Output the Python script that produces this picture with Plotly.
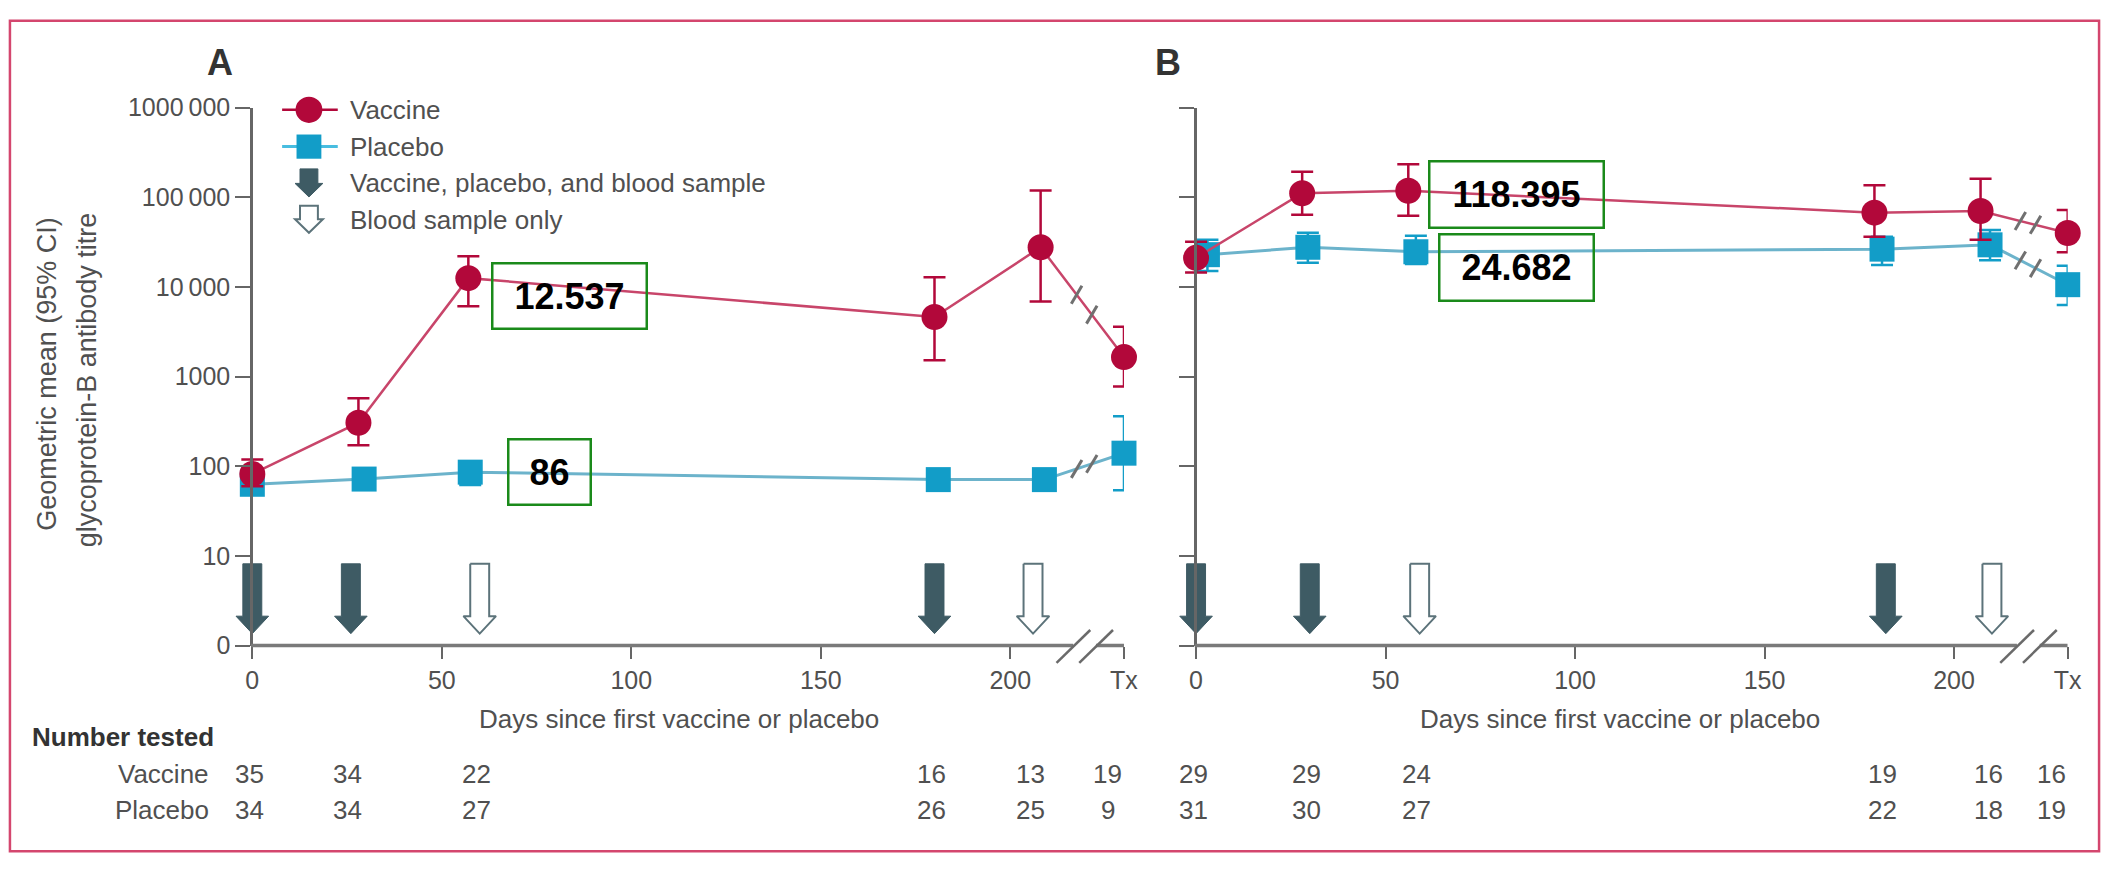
import numpy as np
import plotly.graph_objects as go

W, H = 2123, 875

# ------------------------------------------------------------------ data
TX_DAY = 230                      # plotting position of the "Tx" visit
x_tick_vals = [0, 50, 100, 150, 200, TX_DAY]
x_tick_text = ["0", "50", "100", "150", "200", "Tx"]
y_tick_vals = [1, 10, 100, 1000, 10000, 100000, 1000000]
y_tick_text = ["0", "10", "100", "1000", "10\u2009000", "100\u2009000", "1000\u2009000"]

# Panel A
a_vac_days = [0, 28, 57, 180, 208]
a_pla_days = [0, 29.5, 57.5, 181, 209]
a_vac_gmt = [82, 306, 12537, 4620, 27700, 1650]
a_vac_lo = [60, 172, 6080, 1520, 6890, 776]
a_vac_hi = [119, 575, 22000, 12800, 119000, 3600]
a_pla_gmt = [63, 72, 86, 71, 71, 140]
a_pla_lo = [54, 60, 62, 60, 60, 54]
a_pla_hi = [74, 86, 112, 84, 84, 362]
a_dose_days = [0, 26, 180]
a_blood_days = [60, 206]
a_n_vac = [35, 34, 22, 16, 13, 19]
a_n_pla = [34, 34, 27, 26, 25, 9]
a_callouts = ["12.537", "86"]

# Panel B
b_vac_days = [0, 28, 56, 179, 207]
b_pla_days = [3, 29.5, 58, 181, 209.5]
b_vac_gmt = [21100, 111000, 118395, 67400, 70400, 40000]
b_vac_lo = [14500, 63700, 62100, 36200, 33600, 24300]
b_vac_hi = [32000, 193000, 234000, 136000, 161000, 72200]
b_pla_gmt = [22900, 27700, 24682, 26400, 29500, 10600]
b_pla_lo = [15100, 18600, 18000, 17600, 19900, 6300]
b_pla_hi = [33600, 40200, 37200, 36200, 43100, 17200]
b_dose_days = [0, 30, 182]
b_blood_days = [59, 210]
b_n_vac = [29, 29, 24, 19, 16, 16]
b_n_pla = [31, 30, 27, 22, 18, 19]
b_callouts = ["118.395", "24.682"]

legend_labels = ["Vaccine", "Placebo", "Vaccine, placebo, and blood sample", "Blood sample only"]

# ------------------------------------------------------------------ style
FONT = "Liberation Sans, Arial, sans-serif"
GREY = "#505050"
AXIS = "#666666"
VAC = "#b2083a"
VAC_LINE = "#c8456a"
PLA = "#129dc8"
PLA_LINE = "#6cb3cb"
DARK = "#3e5b64"
OPEN = "#5c737a"
GREEN = "#1a8a1a"
BORDER = "#d4466e"

PX_PER_DAY = 3.815
DAY0_PX = {"A": 254.0, "B": 1204.0}
X_MIN = -6
Y_TOP_PX, Y_BOT_PX = 96.7, 652.5


def fx(px):
    return px / W


def fy(py):
    return 1 - py / H


def xs(days):
    return list(days) + [TX_DAY]


def arrows(days):
    sw, hw = 2.5, 4.3
    top, neck, tip = 8.17, 2.13, 1.36
    X, Y = [], []
    for d in days:
        X += [d - sw, d + sw, d + sw, d + hw, d, d - hw, d - sw, d - sw, None]
        Y += [top, top, neck, neck, tip, neck, neck, top, None]
    return X, Y


def break_marks(days, gmt):
    X, Y = [], []
    x0, x1 = days[-1], TX_DAY
    l0, l1 = np.log10(gmt[-2]), np.log10(gmt[-1])
    for d in (217.5, 221.5):
        lm = l0 + (d - x0) / (x1 - x0) * (l1 - l0)
        X += [d - 1.4, d + 1.4, None]
        Y += [10 ** (lm - 0.1), 10 ** (lm + 0.1), None]
    return X, Y


fig = go.Figure()


def add_panel(xa, ya, vd, pd_, vg, vlo, vhi, pg, plo, phi, dose, blood):
    X, Y = arrows(dose)
    fig.add_trace(go.Scatter(x=X, y=Y, mode="lines", fill="toself", fillcolor=DARK,
                             line=dict(color=DARK, width=1), xaxis=xa, yaxis=ya,
                             showlegend=False, hoverinfo="skip"))
    X, Y = arrows(blood)
    fig.add_trace(go.Scatter(x=X, y=Y, mode="lines", fill="toself", fillcolor="white",
                             line=dict(color=OPEN, width=2), xaxis=xa, yaxis=ya,
                             showlegend=False, hoverinfo="skip"))
    for days, g, lo, hi, mcol, lcol, sym, size, w in (
        (pd_, pg, plo, phi, PLA, PLA_LINE, "square", 25, 3),
        (vd, vg, vlo, vhi, VAC, VAC_LINE, "circle", 26, 2.5),
    ):
        fig.add_trace(go.Scatter(
            x=xs(days), y=g, mode="lines+markers", xaxis=xa, yaxis=ya,
            line=dict(color=lcol, width=w),
            marker=dict(symbol=sym, size=size, color=mcol, line=dict(width=0)),
            error_y=dict(type="data", symmetric=False,
                         array=[h - m for m, h in zip(g, hi)],
                         arrayminus=[m - l for m, l in zip(g, lo)],
                         color=mcol, thickness=2.5, width=11),
            cliponaxis=False, showlegend=False, hoverinfo="skip"))
    bx, by = break_marks(pd_, pg)
    vx, vy = break_marks(vd, vg)
    fig.add_trace(go.Scatter(x=bx + vx, y=by + vy, mode="lines", xaxis=xa, yaxis=ya,
                             line=dict(color="#707070", width=3),
                             showlegend=False, hoverinfo="skip", cliponaxis=False))


add_panel("x", "y", a_vac_days, a_pla_days, a_vac_gmt, a_vac_lo, a_vac_hi,
          a_pla_gmt, a_pla_lo, a_pla_hi, a_dose_days, a_blood_days)
add_panel("x2", "y2", b_vac_days, b_pla_days, b_vac_gmt, b_vac_lo, b_vac_hi,
          b_pla_gmt, b_pla_lo, b_pla_hi, b_dose_days, b_blood_days)

# ------------------------------------------------------------------ axes
ydom = [fy(Y_BOT_PX), fy(Y_TOP_PX)]
tickfont = dict(family=FONT, size=25, color=GREY)


def xaxis_cfg(panel):
    d0 = DAY0_PX[panel]
    return dict(domain=[fx(d0 + X_MIN * PX_PER_DAY), fx(d0 + TX_DAY * PX_PER_DAY)],
                range=[X_MIN, TX_DAY], showline=False, showgrid=False, zeroline=False,
                ticks="outside", ticklen=12, tickwidth=2, tickcolor=AXIS,
                tickmode="array", tickvals=x_tick_vals, ticktext=x_tick_text,
                tickfont=tickfont, fixedrange=True)


def yaxis_cfg(panel, labels):
    d0 = DAY0_PX[panel]
    return dict(domain=ydom, type="log", range=[0, 6], anchor="free",
                position=fx(d0 - 1.3), showline=True, linecolor=AXIS, linewidth=2.5,
                showgrid=False, zeroline=False, ticks="outside", ticklen=15,
                tickwidth=2, tickcolor=AXIS, tickmode="array", tickvals=y_tick_vals,
                ticktext=y_tick_text, showticklabels=labels, tickfont=tickfont,
                fixedrange=True)


fig.update_layout(
    width=W, height=H, autosize=False,
    margin=dict(l=0, r=0, t=0, b=0),
    paper_bgcolor="white", plot_bgcolor="white",
    font=dict(family=FONT, size=25, color=GREY),
    xaxis=dict(xaxis_cfg("A"), anchor="y"), xaxis2=dict(xaxis_cfg("B"), anchor="y2"),
    yaxis=yaxis_cfg("A", True), yaxis2=yaxis_cfg("B", False),
    showlegend=False,
)

shapes = []
# x-axis lines with a break before Tx
for xr, yr in (("x", "y domain"), ("x2", "y2 domain")):
    for a, b in ((-0.35, 216.6), (222.6, TX_DAY)):
        shapes.append(dict(type="line", xref=xr, yref=yr, x0=a, x1=b, y0=0, y1=0,
                           line=dict(color="#7a7a7a", width=3.5), layer="above"))
    for a in (212.2, 218.2):
        shapes.append(dict(type="line", xref=xr, yref=yr, x0=a, x1=a + 8.9,
                           y0=-0.032, y1=0.029, line=dict(color="#6a6a6a", width=2.5)))

# outer frame
shapes.append(dict(type="rect", xref="paper", yref="paper", x0=fx(10), x1=fx(2113),
                   y0=fy(865), y1=fy(7), line=dict(color=BORDER, width=2.5)))

# legend glyphs
lx = 311
shapes += [
    dict(type="line", xref="paper", yref="paper", x0=fx(284), x1=fx(340), y0=fy(99), y1=fy(99),
         line=dict(color=VAC, width=2.5)),
    dict(type="circle", xref="paper", yref="paper", x0=fx(lx - 13.5), x1=fx(lx + 13.5),
         y0=fy(112.5), y1=fy(85.5), fillcolor=VAC, line=dict(width=0)),
    dict(type="line", xref="paper", yref="paper", x0=fx(284), x1=fx(340), y0=fy(137), y1=fy(137),
         line=dict(color="#48bde0", width=3)),
    dict(type="rect", xref="paper", yref="paper", x0=fx(lx - 12.5), x1=fx(lx + 12.5),
         y0=fy(149.5), y1=fy(124.5), fillcolor=PLA, line=dict(width=0)),
]


def arrow_path(cx, top, neck, tip, sw=9, hw=14):
    pts = [(cx - sw, top), (cx + sw, top), (cx + sw, neck), (cx + hw, neck), (cx, tip),
           (cx - hw, neck), (cx - sw, neck)]
    return "M " + " L ".join(f"{fx(x):.5f},{fy(y):.5f}" for x, y in pts) + " Z"


shapes.append(dict(type="path", xref="paper", yref="paper", path=arrow_path(lx, 160, 175, 189),
                   fillcolor=DARK, line=dict(color=DARK, width=1)))
shapes.append(dict(type="path", xref="paper", yref="paper", path=arrow_path(lx, 198, 212, 226),
                   fillcolor="white", line=dict(color=OPEN, width=2)))

annotations = []


def text(x, y, s, size=25, color=GREY, xanchor="center", bold=False, xref="paper", **kw):
    annotations.append(dict(x=x, y=y, xref=xref, yref="paper", text=f"<b>{s}</b>" if bold else s,
                            showarrow=False, xanchor=xanchor, yanchor="middle",
                            font=dict(family=FONT, size=size, color=color), **kw))


for i, lab in enumerate(legend_labels):
    text(fx(350), fy(99 + 38 * i), lab, size=26, xanchor="left")

text(fx(221), fy(50), "A", size=36, color="#333333", bold=True)
text(fx(1176), fy(50), "B", size=36, color="#333333", bold=True)

text(fx(47), fy(372), "Geometric mean (95% CI)", size=27, textangle=-90)
text(fx(87), fy(378), "glycoprotein-B antibody titre", size=27, textangle=-90)

text(fx(684), fy(728), "Days since first vaccine or placebo", size=26)
text(fx(1631), fy(728), "Days since first vaccine or placebo", size=26)

text(fx(30), fy(747), "Number tested", size=26, color="#333333", bold=True, xanchor="left")
text(fx(212), fy(785), "Vaccine", size=26, xanchor="right")
text(fx(212), fy(822), "Placebo", size=26, xanchor="right")

for xr, dose, blood, nv, np_ in (("x", a_dose_days, a_blood_days, a_n_vac, a_n_pla),
                                 ("x2", b_dose_days, b_blood_days, b_n_vac, b_n_pla)):
    visits = xs(sorted(dose + blood))
    for d, v, p in zip(visits, nv, np_):
        shift = -16 if d == TX_DAY else -3
        text(d, fy(785), str(v), size=26, xref=xr, xshift=shift)
        text(d, fy(822), str(p), size=26, xref=xr, xshift=shift)

# highlighted values
for s, (cx, cy, w, h) in zip(a_callouts + b_callouts,
                            [(573, 291.5, 152, 63), (553, 473.5, 80, 63),
                             (1527, 186, 172, 64), (1527, 262, 152, 64)]):
    annotations.append(dict(x=fx(cx), y=fy(cy), xref="paper", yref="paper", text=f"<b>{s}</b>",
                            showarrow=False, xanchor="center", yanchor="middle",
                            width=w, height=h, borderpad=0, borderwidth=2.5,
                            bordercolor=GREEN, bgcolor="rgba(0,0,0,0)",
                            font=dict(family=FONT, size=36, color="black")))

fig.update_layout(shapes=shapes, annotations=annotations)
fig.write_html("out.html", config={"displayModeBar": False})
